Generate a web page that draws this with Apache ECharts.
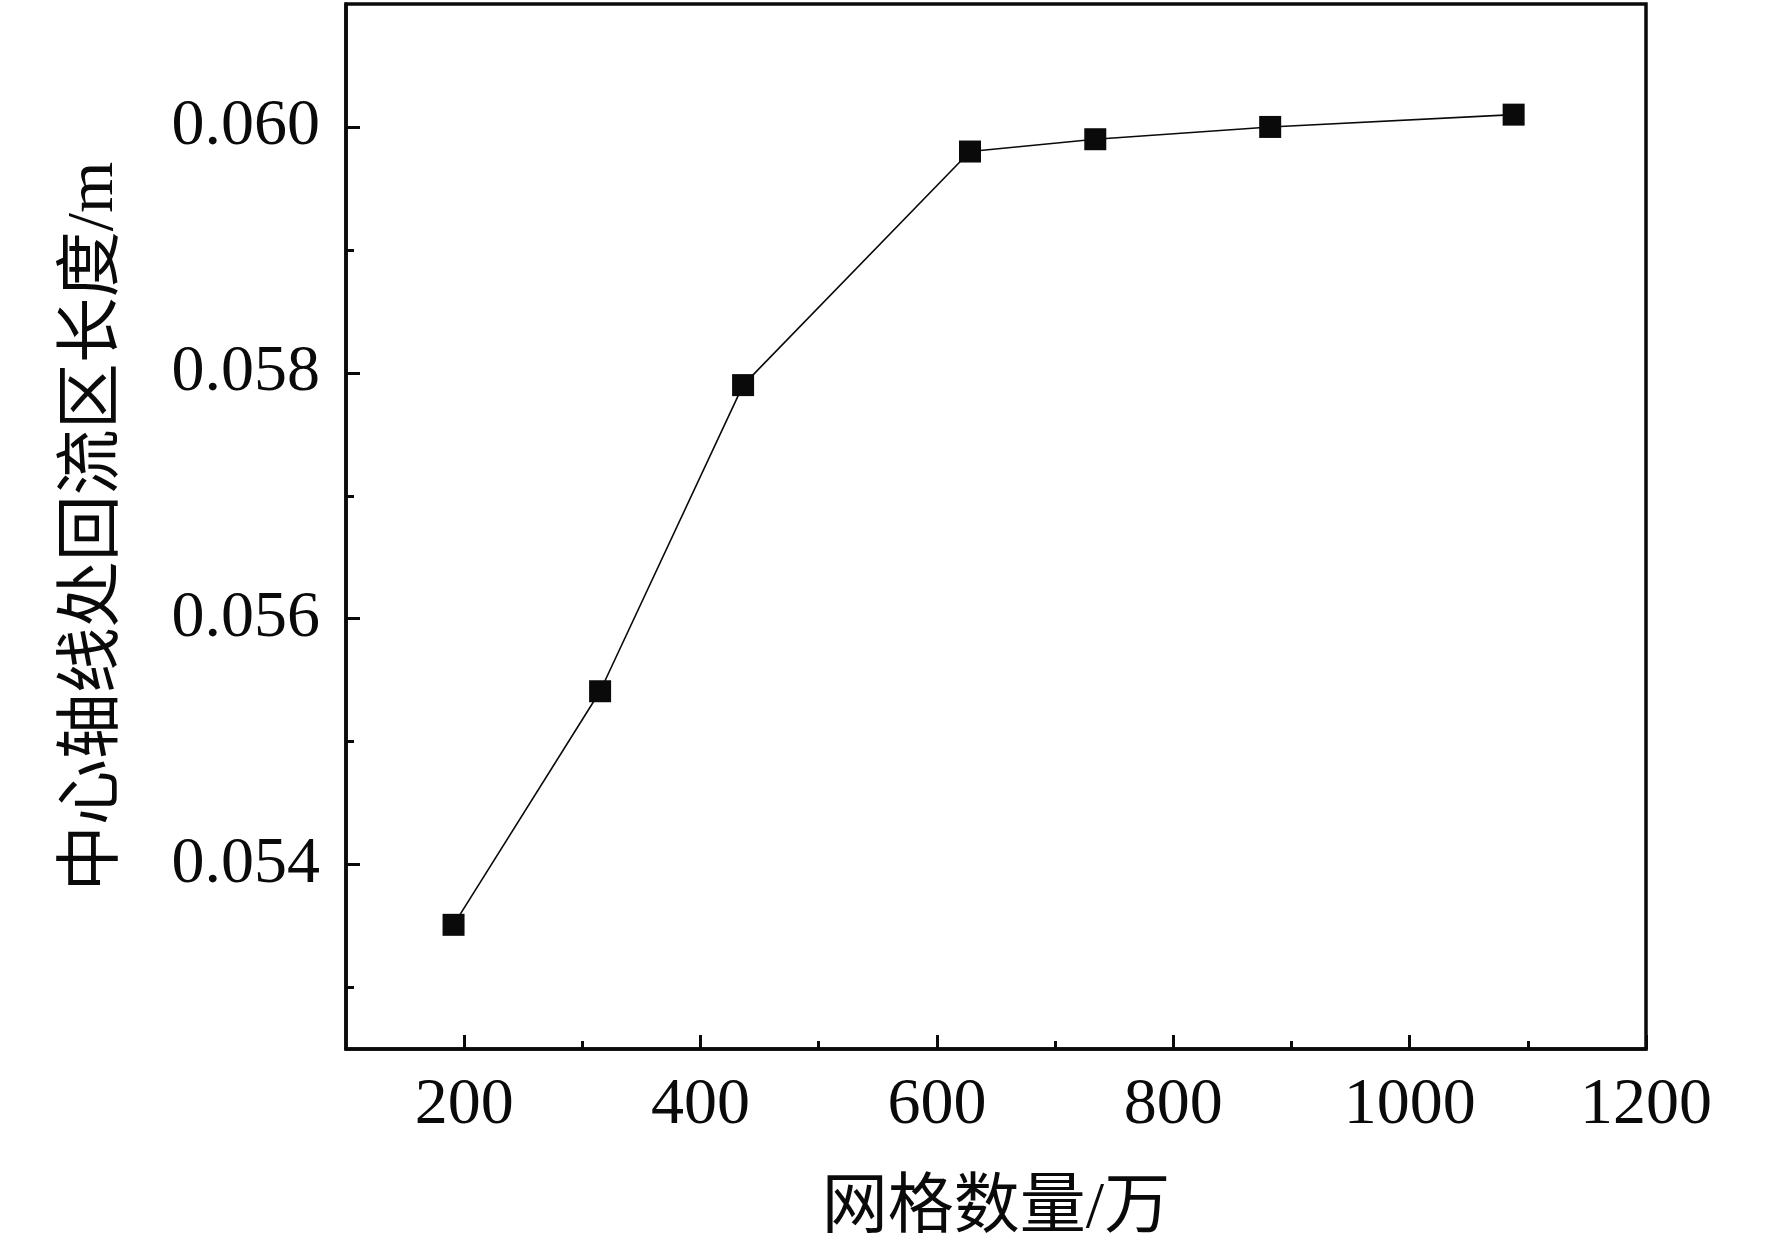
<!DOCTYPE html>
<html lang="zh">

<head>
    <meta charset="UTF-8">
    <title>网格无关性</title>
    <style>
        html, body {
            margin: 0;
            padding: 0;
            background: #fff;
        }

        #main {
            width: 1772px;
            height: 1248px;
        }
    </style>
    <script src="https://cdn.jsdelivr.net/npm/echarts@6/dist/echarts.min.js"></script>
</head>

<body>
    <div id="main"></div>
    <script>
        // 网格数量 (万) 与 回流区长度 (m)
        const gridCounts = [191, 315, 436, 628, 734, 882, 1088];
        const lengths = [0.05351, 0.05541, 0.05790, 0.05980, 0.05990, 0.06000, 0.06010];

        const xLabels = [200, 400, 600, 800, 1000, 1200];
        const xMinorTicks = [300, 500, 700, 900, 1100];
        const yLabels = [0.054, 0.056, 0.058, 0.060];
        const yMinorTicks = [0.053, 0.055, 0.057, 0.059];

        const chart = echarts.init(document.getElementById('main'));

        const serif = '"Liberation Serif", "Times New Roman", serif';
        const cjk = '"Liberation Serif", "Noto Sans CJK SC", serif';
        const black = '#0a0a0a';

        function baseAxis(min, max) {
            return {
                type: 'value',
                min: min,
                max: max,
                splitLine: { show: false },
                axisLine: { show: true, lineStyle: { color: black, width: 3.5 } },
            };
        }

        const option = {
            backgroundColor: '#fff',
            animation: false,
            grid: {
                left: 346,
                right: 126,
                top: 4,
                bottom: 195,
                show: true,
                borderColor: black,
                borderWidth: 3.5
            },
            xAxis: [
                Object.assign(baseAxis(100, 1200), {
                    position: 'bottom',
                    name: '网格数量/万',
                    nameLocation: 'middle',
                    nameGap: 128,
                    nameTextStyle: { fontFamily: cjk, fontSize: 66, color: black },
                    axisTick: {
                        inside: true, length: 14, customValues: xLabels,
                        lineStyle: { color: black, width: 3 }
                    },
                    axisLabel: {
                        customValues: xLabels, margin: 24,
                        fontFamily: serif, fontSize: 66, color: black,
                        formatter: v => String(v)
                    }
                }),
                Object.assign(baseAxis(100, 1200), {
                    position: 'bottom',
                    axisLine: { show: false },
                    axisTick: {
                        inside: true, length: 8, customValues: xMinorTicks,
                        lineStyle: { color: black, width: 3 }
                    },
                    axisLabel: { show: false }
                })
            ],
            yAxis: [
                Object.assign(baseAxis(0.0525, 0.061), {
                    position: 'left',
                    name: '中心轴线处回流区长度/m',
                    nameLocation: 'middle',
                    nameGap: 218,
                    nameTextStyle: { fontFamily: cjk, fontSize: 66, color: black },
                    axisTick: {
                        inside: true, length: 14, customValues: yLabels,
                        lineStyle: { color: black, width: 3 }
                    },
                    axisLabel: {
                        customValues: yLabels, margin: 26,
                        fontFamily: serif, fontSize: 66, color: black,
                        formatter: v => v.toFixed(3)
                    }
                }),
                Object.assign(baseAxis(0.0525, 0.061), {
                    position: 'left',
                    axisLine: { show: false },
                    axisTick: {
                        inside: true, length: 8, customValues: yMinorTicks,
                        lineStyle: { color: black, width: 3 }
                    },
                    axisLabel: { show: false }
                })
            ],
            series: [
                {
                    type: 'line',
                    xAxisIndex: 0,
                    yAxisIndex: 0,
                    data: gridCounts.map((x, i) => [x, lengths[i]]),
                    symbol: 'rect',
                    symbolSize: 22,
                    itemStyle: { color: black },
                    lineStyle: { color: black, width: 1.6 }
                }
            ]
        };

        chart.setOption(option);
    </script>
</body>

</html>
